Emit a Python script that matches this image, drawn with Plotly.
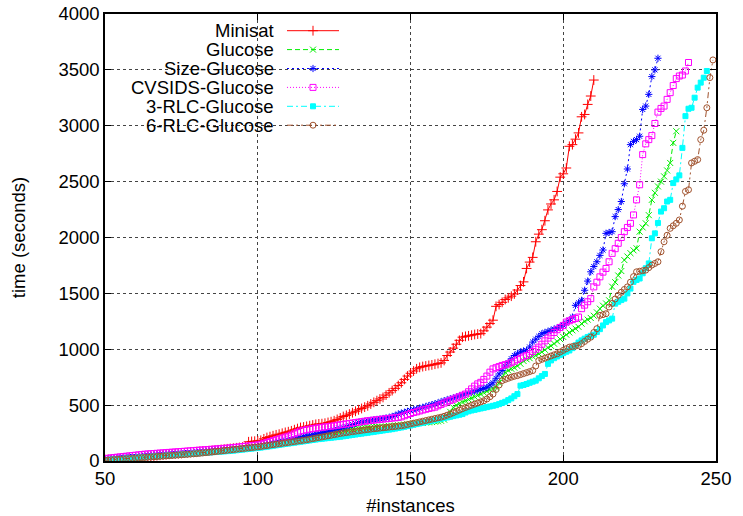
import plotly.graph_objects as go

# ---- data (time in seconds for each solved instance, sorted; x = #instances) ----
x_start = 50
x_ticks = [50, 100, 150, 200, 250]
y_ticks = [0, 500, 1000, 1500, 2000, 2500, 3000, 3500, 4000]

minisat = [12, 14, 16, 18, 20, 22, 24, 26, 28, 30, 32, 34, 36, 38, 40, 42, 45, 48, 51, 54,
           57, 60, 62, 64, 66, 68, 71, 74, 77, 80, 83, 86, 88, 90, 92, 94, 97, 100, 103, 106,
           109, 112, 115, 118, 121, 124, 128, 172, 175, 177, 180, 185, 198, 210, 218, 226, 234, 240, 248, 256,
           262, 270, 280, 290, 300, 304, 310, 316, 322, 328, 332, 334, 338, 345, 352, 360, 372, 385, 398, 408,
           420, 432, 445, 458, 470, 482, 494, 510, 525, 540, 555, 569, 590, 610, 630, 650, 675, 700, 730, 760,
           785, 805, 825, 838, 845, 850, 855, 860, 866, 872, 878, 900, 944, 975, 1010, 1045, 1080, 1108, 1115, 1120,
           1126, 1132, 1136, 1140, 1165, 1198, 1230, 1260, 1384, 1400, 1420, 1445, 1460, 1475, 1495, 1530, 1570, 1603, 1723, 1780,
           1822, 1962, 2030, 2070, 2150, 2247, 2300, 2337, 2412, 2540, 2570, 2622, 2816, 2831, 2880, 2936, 3080, 3101, 3191, 3266,
           3409]

glucose = [12, 14, 16, 18, 20, 22, 24, 26, 28, 30, 32, 34, 36, 38, 40, 42, 44, 46, 48, 50,
           52, 54, 56, 58, 60, 62, 64, 66, 68, 70, 72, 75, 78, 81, 84, 87, 90, 93, 96, 99,
           102, 105, 108, 111, 114, 117, 120, 123, 126, 129, 132, 136, 140, 145, 150, 155, 160, 165, 170, 175,
           180, 185, 190, 195, 200, 205, 210, 215, 220, 225, 230, 235, 240, 245, 250, 255, 260, 265, 270, 274,
           278, 282, 286, 290, 294, 297, 300, 302, 304, 305, 306, 308, 310, 313, 316, 318, 320, 323, 326, 329,
           332, 335, 338, 340, 342, 344, 346, 349, 352, 355, 360, 370, 400, 440, 479, 500, 515, 528, 539, 550,
           562, 575, 588, 599, 612, 625, 638, 648, 659, 700, 750, 794, 810, 825, 835, 850, 870, 895, 910, 920,
           935, 945, 959, 975, 995, 1015, 1030, 1050, 1070, 1090, 1110, 1130, 1150, 1169, 1185, 1200, 1229, 1250, 1265, 1280,
           1300, 1330, 1363, 1390, 1410, 1438, 1560, 1600, 1660, 1700, 1798, 1830, 1860, 1885, 1903, 2052, 2090, 2127, 2200, 2337,
           2400, 2457, 2500, 2547, 2600, 2667, 2847, 2951]

size_glucose = [14, 17, 20, 23, 26, 29, 32, 35, 38, 40, 42, 44, 46, 48, 50, 52, 54, 56, 58, 60,
                62, 64, 66, 68, 70, 72, 74, 76, 78, 80, 82, 84, 86, 88, 90, 92, 94, 96, 98, 100,
                102, 104, 106, 109, 112, 115, 118, 121, 124, 127, 130, 135, 140, 146, 152, 158, 164, 170, 176, 182,
                188, 194, 200, 206, 212, 218, 224, 230, 236, 242, 248, 254, 260, 266, 272, 278, 284, 290, 298, 306,
                316, 326, 336, 345, 350, 355, 360, 364, 368, 372, 376, 380, 385, 390, 398, 408, 420, 428, 436, 444,
                452, 458, 464, 472, 480, 488, 496, 504, 512, 520, 530, 539, 548, 556, 564, 572, 582, 590, 599, 608,
                617, 626, 634, 642, 650, 659, 680, 700, 740, 779, 810, 850, 880, 915, 944, 960, 975, 985, 989, 1020,
                1064, 1090, 1115, 1139, 1150, 1160, 1170, 1180, 1190, 1198, 1215, 1235, 1258, 1288, 1393, 1415, 1438, 1528, 1610, 1693,
                1740, 1783, 1840, 1888, 2037, 2045, 2052, 2187, 2250, 2322, 2481, 2613, 2831, 2860, 2876, 2906, 3146, 3176, 3281, 3440,
                3500, 3604]

cvsids_glucose = [20, 24, 28, 31, 34, 37, 40, 43, 46, 49, 52, 55, 58, 61, 63, 65, 67, 69, 71, 73,
                  75, 77, 79, 81, 83, 85, 87, 89, 91, 93, 95, 97, 99, 101, 103, 105, 107, 109, 111, 113,
                  115, 117, 120, 123, 126, 129, 132, 135, 138, 141, 144, 150, 158, 166, 174, 182, 190, 198, 206, 214,
                  222, 232, 244, 256, 268, 274, 280, 285, 290, 294, 298, 302, 305, 308, 312, 315, 320, 324, 328, 332,
                  336, 340, 344, 348, 352, 356, 360, 363, 366, 369, 372, 375, 378, 381, 384, 387, 390, 395, 405, 415,
                  425, 434, 440, 448, 456, 463, 470, 476, 482, 494, 506, 518, 530, 542, 553, 564, 575, 588, 599, 620,
                  645, 670, 690, 704, 730, 760, 795, 824, 835, 845, 855, 862, 869, 880, 893, 907, 920, 932, 944, 960,
                  980, 1000, 1019, 1045, 1075, 1100, 1124, 1150, 1175, 1195, 1213, 1243, 1255, 1265, 1275, 1288, 1363, 1395, 1425, 1453,
                  1558, 1600, 1648, 1690, 1723, 1783, 1858, 1900, 1948, 2000, 2052, 2090, 2127, 2202, 2337, 2472, 2742, 2838, 2876, 2912,
                  3020, 3122, 3155, 3176, 3236, 3296, 3360, 3422, 3445, 3454, 3490, 3566]

rlc3_glucose = [8, 10, 12, 14, 16, 18, 20, 22, 24, 26, 28, 30, 32, 34, 36, 38, 40, 42, 44, 46,
                48, 50, 52, 54, 56, 58, 60, 62, 64, 66, 68, 70, 72, 74, 76, 78, 80, 82, 84, 86,
                88, 90, 93, 96, 99, 102, 105, 108, 111, 114, 117, 120, 124, 128, 132, 136, 140, 144, 148, 152,
                156, 160, 164, 168, 172, 176, 180, 184, 188, 192, 196, 199, 202, 205, 208, 211, 214, 217, 221, 225,
                229, 233, 237, 241, 245, 249, 253, 257, 261, 265, 269, 273, 277, 281, 285, 290, 295, 300, 306, 312,
                318, 324, 330, 336, 342, 348, 354, 360, 366, 372, 378, 384, 390, 396, 402, 408, 414, 420, 434, 445,
                452, 458, 464, 470, 476, 482, 488, 494, 500, 509, 520, 530, 545, 560, 580, 599, 674, 680, 689, 700,
                710, 719, 740, 760, 779, 869, 900, 920, 935, 950, 965, 978, 989, 1010, 1035, 1060, 1079, 1095, 1110, 1120,
                1130, 1154, 1180, 1213, 1243, 1258, 1274, 1408, 1425, 1440, 1453, 1500, 1543, 1603, 1620, 1633, 1680, 1725, 1768, 1993,
                2037, 2130, 2232, 2262, 2322, 2337, 2487, 2520, 2556, 2802, 3086, 3152, 3161, 3251, 3341, 3386, 3430, 3490]

rlc6_glucose = [6, 8, 10, 12, 14, 16, 18, 20, 22, 24, 26, 28, 30, 32, 34, 36, 38, 40, 42, 44,
                46, 48, 50, 52, 54, 56, 58, 60, 62, 64, 66, 69, 72, 75, 78, 81, 84, 87, 90, 93,
                96, 99, 102, 105, 108, 111, 114, 117, 120, 123, 126, 130, 134, 138, 142, 146, 150, 154, 158, 162,
                166, 170, 174, 178, 182, 186, 190, 195, 200, 205, 210, 215, 220, 225, 230, 235, 240, 246, 250, 254,
                258, 262, 266, 270, 274, 278, 282, 285, 288, 291, 294, 297, 300, 303, 306, 309, 312, 315, 320, 326,
                332, 338, 344, 350, 356, 362, 368, 374, 380, 386, 392, 400, 410, 420, 432, 444, 456, 468, 479, 489,
                499, 509, 519, 529, 539, 555, 575, 599, 640, 680, 719, 730, 740, 750, 758, 764, 773, 782, 791, 800,
                809, 850, 899, 910, 920, 930, 940, 950, 959, 975, 990, 1005, 1019, 1024, 1029, 1034, 1050, 1070, 1090, 1108,
                1150, 1184, 1303, 1310, 1318, 1378, 1410, 1450, 1483, 1510, 1535, 1558, 1600, 1650, 1693, 1698, 1703, 1708, 1730, 1753,
                1768, 1783, 1873, 1962, 2020, 2082, 2105, 2127, 2157, 2280, 2412, 2427, 2667, 2682, 2697, 2876, 2960, 3161, 3431, 3589]

series_names = ["Minisat", "Glucose", "Size-Glucose", "CVSIDS-Glucose", "3-RLC-Glucose", "6-RLC-Glucose"]
series_values = [minisat, glucose, size_glucose, cvsids_glucose, rlc3_glucose, rlc6_glucose]

# ---- styles ----
colors = ["#ff0000", "#00ee00", "#0000ff", "#ff00ff", "#00ffff", "#a0522d"]
dashes = ["solid", "5px,3px", "2px,3px", "1px,2px", "6px,3px,2px,3px", "6px,3px,2px,3px,2px,3px"]
symbols = ["cross-thin", "x-thin", "asterisk", "square-open", "square", "circle-open"]
msizes = [7, 6, 6, 6, 5, 6]

FONT = "Liberation Sans, Arial, Helvetica, sans-serif"
FS = 18.5

W, H = 743, 516
ML, MR, MT, MB = 105, 27, 14, 55
PW, PH = W - ML - MR, H - MT - MB


def fx(px):
    return (px - ML) / PW


def fy(py):
    return (H - MB - py) / PH


fig = go.Figure()

for name, vals, c, d, s, ms in zip(series_names, series_values, colors, dashes, symbols, msizes):
    xs = list(range(x_start, x_start + len(vals)))
    fig.add_trace(go.Scatter(
        x=xs, y=vals, mode="lines+markers", name=name, showlegend=False,
        line=dict(color=c, width=1, dash=d),
        marker=dict(symbol=s, size=ms, color=c, line=dict(color=c, width=1)),
        xaxis="x", yaxis="y",
    ))

# ---- custom legend (text left, sample right, as in gnuplot) ----
leg_rows = [30.7, 49.6, 68.5, 87.4, 106.3, 125.2]
for name, c, d, s, ms, ry in zip(series_names, colors, dashes, symbols, msizes, leg_rows):
    ly = fy(ry)
    fig.add_trace(go.Scatter(
        x=[fx(287), fx(339)], y=[ly, ly], mode="lines", showlegend=False, hoverinfo="skip",
        line=dict(color=c, width=1, dash=d), xaxis="x2", yaxis="y2"))
    fig.add_trace(go.Scatter(
        x=[fx(313)], y=[ly], mode="markers", showlegend=False, hoverinfo="skip",
        marker=dict(symbol=s, size=ms, color=c, line=dict(color=c, width=1)),
        xaxis="x2", yaxis="y2"))
    fig.add_annotation(x=fx(276), y=ly, xref="paper", yref="paper", text=name,
                       showarrow=False, xanchor="right", yanchor="middle",
                       font=dict(family=FONT, size=FS, color="black"))

# white box behind legend hides the grid there
fig.add_shape(type="rect", xref="paper", yref="paper", x0=fx(125), x1=fx(346), y0=fy(134), y1=1.0,
              fillcolor="white", line=dict(width=0), layer="between")

axis_common = dict(
    showline=True, linecolor="black", linewidth=1.5, mirror="ticks",
    ticks="inside", ticklen=6, tickwidth=1, tickcolor="black",
    showgrid=True, gridcolor="#444444", griddash="dot", gridwidth=1,
    zeroline=False, tickfont=dict(family=FONT, size=FS, color="black"),
    automargin=False, ticklabeloverflow="allow",
)

fig.update_layout(
    width=W, height=H, autosize=False,
    margin=dict(l=ML, r=MR, t=MT, b=MB, pad=0),
    paper_bgcolor="white", plot_bgcolor="white",
    showlegend=False,
    xaxis=dict(range=[50, 250], tickvals=x_ticks, title=dict(text="#instances", standoff=12,
               font=dict(family=FONT, size=FS, color="black")), **axis_common),
    yaxis=dict(range=[0, 4000], tickvals=y_ticks, title=dict(text="time (seconds)", standoff=28,
               font=dict(family=FONT, size=FS, color="black")), **axis_common),
    xaxis2=dict(range=[0, 1], overlaying="x", visible=False, fixedrange=True),
    yaxis2=dict(range=[0, 1], overlaying="y", visible=False, fixedrange=True),
)

# remove the default page margin so the figure sits at the window origin
fig.write_html("out.html", config={"displayModeBar": False},
               post_script="document.body.style.margin='0';document.body.style.overflow='hidden';")
